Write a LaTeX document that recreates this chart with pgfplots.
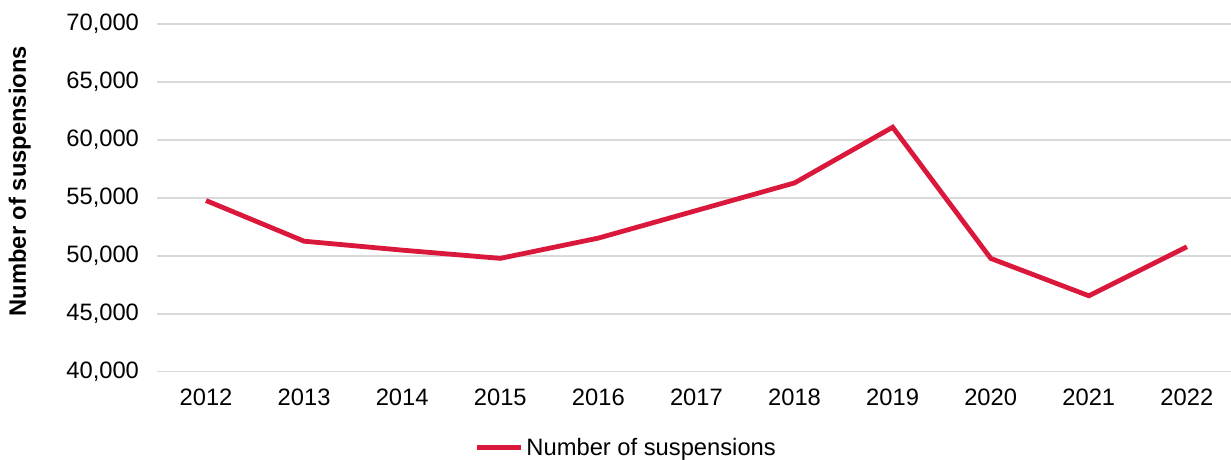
\documentclass[border=0pt]{standalone}
\usepackage{pgfplots}
\pgfplotsset{compat=1.18}
\usepackage{fontspec}
\setmainfont{Liberation Sans}

\definecolor{linered}{RGB}{218,24,60}
\definecolor{gridgray}{RGB}{217,217,217}

\begin{document}
\begin{tikzpicture}[x=1pt,y=1pt]
% 1 px of the reference = 0.75pt
\useasboundingbox (-117.75,-65.5) rectangle (805.5,278.8);
\begin{axis}[
    at={(0,0)}, anchor=south west,
    scale only axis,
    width=809.25pt, height=260.8pt,
    xmin=2011.5, xmax=2022.5,
    ymin=40000, ymax=70000,
    xtick={2012,...,2022},
    ytick={40000,45000,...,70000},
    scaled y ticks=false,
    axis line style={draw=none},
    tick style={draw=none},
    ymajorgrids,
    grid style={gridgray, line width=1.1pt},
    font=\fontsize{17.8}{20}\selectfont,
    /pgf/number format/assume math mode=true,
    yticklabel style={xshift=-10pt, /pgf/number format/fixed, /pgf/number format/1000 sep={,}},
    xticklabel style={yshift=-9pt, /pgf/number format/1000 sep={}},
    ylabel={\bfseries Number of suspensions},
    every axis y label/.style={at={(axis description cs:0,0.548)}, xshift=-103pt, rotate=90, anchor=center},
    legend style={at={(axis description cs:0.2945,-0.2186)}, anchor=west, draw=none, fill=none, inner sep=0pt,
        font=\fontsize{17.8}{20}\selectfont},
    legend cell align=left,
    legend image code/.code={\draw[#1, line width=3.6pt] (0pt,0pt) -- (33pt,0pt);},
    clip=false,
]
\addplot[linered, line width=3.6pt, line join=miter] coordinates {
    (2012,54770) (2013,51260) (2014,50490) (2015,49780) (2016,51530)
    (2017,53910) (2018,56290) (2019,61095) (2020,49775) (2021,46550)
    (2022,50780)
};
\addlegendentry{Number of suspensions}
\end{axis}
\end{tikzpicture}
\end{document}
